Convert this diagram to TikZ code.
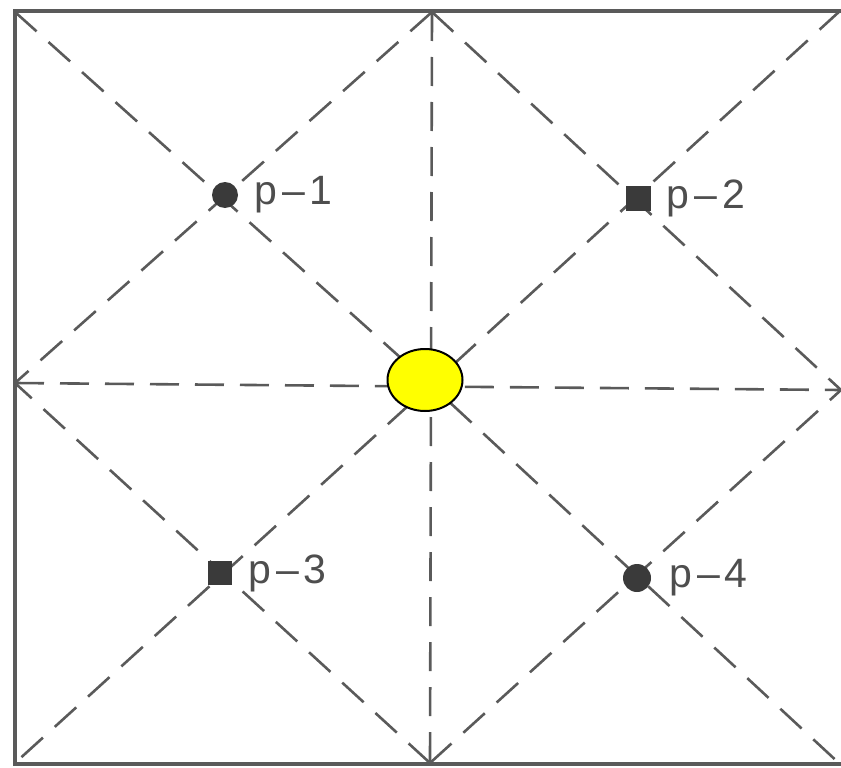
\documentclass[tikz,border=0pt]{standalone}
\usepackage{fontspec}
\setmainfont{Liberation Sans}
\usepackage{tikz}
\usetikzlibrary{positioning,shapes.geometric}
\definecolor{pgray}{HTML}{5A5A5A}
\definecolor{pdark}{HTML}{3A3A3A}
\definecolor{psun}{HTML}{FFFF00}
\tikzset{
  frame/.style={draw=pgray,line width=3.5pt},
  guide/.style={draw=pgray,line width=2.6pt,dash pattern=on 29pt off 16pt},
  dot/.style={circle,fill=pdark,minimum size=26pt,inner sep=0pt},
  sq/.style={rectangle,fill=pdark,minimum size=25pt,inner sep=0pt},
  lbl/.style={font=\fontsize{41}{44}\selectfont,text=pdark!90,inner sep=1pt},
  sun/.style={ellipse,draw=black,line width=2pt,fill=psun,minimum width=75pt,minimum height=62pt,inner sep=0pt},
}
\begin{document}
\begin{tikzpicture}[x=1pt,y=-1pt]
  \useasboundingbox (0,0) rectangle (841,768);
  % frame, open on the right
  \coordinate (tl) at (15,11);  \coordinate (tr) at (845,11);
  \coordinate (bl) at (15,764); \coordinate (br) at (845,764);
  \draw[frame] (tr) -- (tl) -- (bl) -- (br);
  % guide lines
  \coordinate (n) at (432,12);  \coordinate (s) at (430,763);
  \coordinate (w) at (15,383);  \coordinate (e) at (841,390);
  \coordinate (c) at (431,385);
  \coordinate (dtl) at (15,12); \coordinate (dtr) at (841,10);
  \coordinate (dbl) at (15,763); \coordinate (dbr) at (841,765);
  \draw[guide] (n) -- (s);
  \draw[guide] (w) -- (e);
  \draw[guide] (dtl) -- (c) -- (dbr);
  \draw[guide] (dtr) -- (c) -- (dbl);
  \foreach \a/\b in {n/w,n/e,s/w,s/e} \draw[guide] (\a) -- (\b);
  % points
  \node[dot] (p1) at (225,195) {};
  \node[sq] (p2) at (638,198) {};
  \node[sq,minimum size=24pt] (p3) at (220,573) {};
  \node[dot,minimum size=28pt] (p4) at (637,578) {};
  \foreach \i/\g in {1/15pt,2/15pt,3/15pt,4/17pt}
    \node[lbl,right=\g of p\i] (l\i) {p\kern5pt--\kern5pt\i};
  \node[sun] (sun) at (425,380) {};
\end{tikzpicture}
\end{document}
